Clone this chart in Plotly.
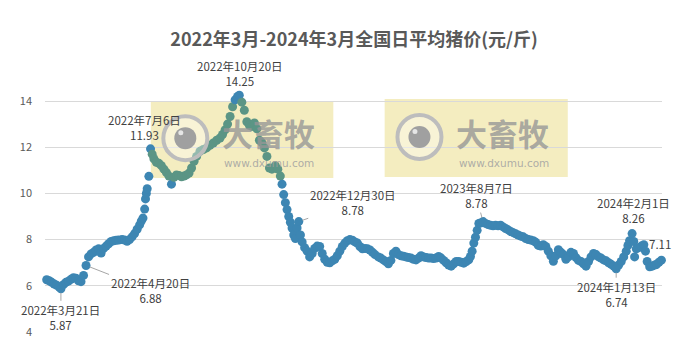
import pandas as pd
import plotly.graph_objects as go

# ---------------- data ----------------
dates = [
    "2022-03-01", "2022-03-04", "2022-03-07", "2022-03-10", "2022-03-13", "2022-03-16", "2022-03-19",
    "2022-03-21", "2022-03-24", "2022-03-27", "2022-03-30", "2022-04-02", "2022-04-05", "2022-04-08",
    "2022-04-11", "2022-04-14", "2022-04-17", "2022-04-20", "2022-04-23", "2022-04-26", "2022-04-29",
    "2022-05-02", "2022-05-05", "2022-05-08", "2022-05-11", "2022-05-14", "2022-05-17", "2022-05-20",
    "2022-05-23", "2022-05-26", "2022-05-29", "2022-06-02", "2022-06-05", "2022-06-08", "2022-06-11",
    "2022-06-14", "2022-06-17", "2022-06-20", "2022-06-23", "2022-06-25", "2022-06-27", "2022-06-29",
    "2022-06-30", "2022-07-01", "2022-07-02", "2022-07-04", "2022-07-06", "2022-07-08", "2022-07-10",
    "2022-07-13", "2022-07-16", "2022-07-19", "2022-07-22", "2022-07-25", "2022-07-28", "2022-07-31",
    "2022-08-03", "2022-08-06", "2022-08-09", "2022-08-12", "2022-08-15", "2022-08-18", "2022-08-21",
    "2022-08-24", "2022-08-27", "2022-08-30", "2022-09-03", "2022-09-07", "2022-09-11", "2022-09-15",
    "2022-09-19", "2022-09-23", "2022-09-27", "2022-09-30", "2022-10-03", "2022-10-06", "2022-10-09",
    "2022-10-12", "2022-10-15", "2022-10-18", "2022-10-20", "2022-10-23", "2022-10-26", "2022-10-29",
    "2022-11-01", "2022-11-04", "2022-11-07", "2022-11-10", "2022-11-13", "2022-11-16", "2022-11-19",
    "2022-11-22", "2022-11-25", "2022-11-28", "2022-12-02", "2022-12-05", "2022-12-08", "2022-12-10",
    "2022-12-12", "2022-12-14", "2022-12-16", "2022-12-18", "2022-12-20", "2022-12-22", "2022-12-24",
    "2022-12-26", "2022-12-28", "2022-12-30",
    "2023-01-01", "2023-01-03", "2023-01-06", "2023-01-09", "2023-01-12", "2023-01-15", "2023-01-18",
    "2023-01-21", "2023-01-24", "2023-01-27", "2023-01-30", "2023-02-02", "2023-02-05", "2023-02-08",
    "2023-02-11", "2023-02-14", "2023-02-17", "2023-02-20", "2023-02-23", "2023-02-26", "2023-03-01",
    "2023-03-04", "2023-03-07", "2023-03-10", "2023-03-13", "2023-03-16", "2023-03-19", "2023-03-22",
    "2023-03-25", "2023-03-28", "2023-03-31", "2023-04-04", "2023-04-07", "2023-04-10", "2023-04-13",
    "2023-04-16", "2023-04-19", "2023-04-22", "2023-04-25", "2023-04-28", "2023-05-01", "2023-05-04",
    "2023-05-07", "2023-05-10", "2023-05-13", "2023-05-16", "2023-05-19", "2023-05-22", "2023-05-25",
    "2023-05-28", "2023-05-31", "2023-06-03", "2023-06-06", "2023-06-09", "2023-06-12", "2023-06-15",
    "2023-06-18", "2023-06-21", "2023-06-24", "2023-06-27", "2023-06-30", "2023-07-03", "2023-07-06",
    "2023-07-09", "2023-07-12", "2023-07-15", "2023-07-18", "2023-07-21", "2023-07-23", "2023-07-25",
    "2023-07-27", "2023-07-29", "2023-07-31", "2023-08-02", "2023-08-04", "2023-08-07", "2023-08-10",
    "2023-08-13", "2023-08-16", "2023-08-19", "2023-08-22", "2023-08-25", "2023-08-28", "2023-08-31",
    "2023-09-03", "2023-09-06", "2023-09-09", "2023-09-12", "2023-09-15", "2023-09-18", "2023-09-21",
    "2023-09-24", "2023-09-27", "2023-09-30", "2023-10-03", "2023-10-06", "2023-10-09", "2023-10-12",
    "2023-10-15", "2023-10-18", "2023-10-21", "2023-10-24", "2023-10-27", "2023-10-30", "2023-11-02",
    "2023-11-05", "2023-11-08", "2023-11-11", "2023-11-14", "2023-11-17", "2023-11-20", "2023-11-23",
    "2023-11-26", "2023-11-29", "2023-12-02", "2023-12-05", "2023-12-08", "2023-12-11", "2023-12-14",
    "2023-12-17", "2023-12-20", "2023-12-23", "2023-12-26", "2023-12-29",
    "2024-01-01", "2024-01-04", "2024-01-07", "2024-01-10", "2024-01-13", "2024-01-16", "2024-01-19",
    "2024-01-22", "2024-01-25", "2024-01-27", "2024-01-29", "2024-02-01", "2024-02-03", "2024-02-04",
    "2024-02-06", "2024-02-09", "2024-02-12", "2024-02-15", "2024-02-17", "2024-02-19", "2024-02-22",
    "2024-02-25", "2024-02-28", "2024-03-01", "2024-03-04", "2024-03-07",
]
prices = [
    6.28, 6.26, 6.22, 6.15, 6.08, 6.02, 5.95,
    5.87, 6.05, 6.15, 6.20, 6.28, 6.35, 6.33,
    6.22, 6.18, 6.45, 6.88, 7.25, 7.38, 7.45,
    7.55, 7.60, 7.42, 7.62, 7.72, 7.82, 7.92,
    7.95, 7.97, 7.98, 8.00, 7.98, 7.93, 8.00,
    8.12, 8.26, 8.45, 8.64, 8.80, 8.93, 9.32,
    9.76, 10.00, 10.20, 10.74, 11.93, 11.70, 11.50,
    11.35, 11.30, 11.20, 11.05, 10.90, 10.75, 10.40,
    10.70, 10.80, 10.78, 10.72, 10.75, 10.80, 10.88,
    11.10, 11.39, 11.60, 11.82, 11.90, 11.97, 12.08,
    12.18, 12.30, 12.40, 12.55, 12.75, 13.00, 13.33,
    13.75, 14.05, 14.20, 14.25, 13.95, 13.60, 13.10,
    12.95, 12.90, 13.05, 12.80, 12.30, 12.20, 11.97,
    11.60, 11.10, 11.05, 11.20, 11.05, 10.75, 10.40,
    9.95, 9.60, 9.30, 9.00, 8.75, 8.50, 8.20,
    8.05, 8.50, 8.78,
    8.20, 7.90, 7.65, 7.50, 7.25, 7.40, 7.62,
    7.72, 7.70, 7.40, 7.15, 7.02, 7.00, 7.08,
    7.15, 7.30, 7.50, 7.70, 7.85, 7.95, 8.00,
    7.97, 7.90, 7.85, 7.70, 7.60, 7.62, 7.60,
    7.55, 7.45, 7.35, 7.25, 7.20, 7.12, 7.05,
    6.95, 7.10, 7.40, 7.50, 7.35, 7.30, 7.28,
    7.25, 7.22, 7.20, 7.15, 7.12, 7.20, 7.30,
    7.25, 7.22, 7.20, 7.20, 7.18, 7.20, 7.27,
    7.20, 7.10, 7.00, 6.90, 6.85, 6.95, 7.05,
    7.05, 7.02, 6.98, 7.05, 7.13, 7.27, 7.50,
    7.85, 8.10, 8.40, 8.70, 8.72, 8.78, 8.70,
    8.65, 8.62, 8.60, 8.62, 8.60, 8.62, 8.55,
    8.48, 8.42, 8.35, 8.30, 8.25, 8.20, 8.15,
    8.12, 8.05, 8.00, 7.98, 7.95, 7.88, 7.75,
    7.72, 7.78, 7.70, 7.50, 7.30, 7.06, 7.30,
    7.56, 7.45, 7.35, 7.15, 7.25, 7.45, 7.40,
    7.22, 7.10, 7.05, 6.95, 6.85, 7.05, 7.25,
    7.40, 7.35, 7.25, 7.20, 7.12,
    7.08, 7.00, 6.93, 6.85, 6.74, 6.90, 7.05,
    7.25, 7.50, 7.75, 7.95, 8.26, 7.92, 7.25,
    7.60, 7.65, 7.72, 7.78, 7.50, 7.05, 6.82,
    6.85, 6.90, 6.92, 7.02, 7.11,
]

# labelled points
label_dates = ["2022-03-21", "2022-04-20", "2022-07-06", "2022-10-20", "2022-12-30",
               "2023-08-07", "2024-02-01", "2024-01-13", "2024-03-07"]
label_values = [5.87, 6.88, 11.93, 14.25, 8.78, 8.78, 8.26, 6.74, 7.11]
label_names = ["2022年3月21日", "2022年4月20日", "2022年7月6日", "2022年10月20日", "2022年12月30日",
               "2023年8月7日", "2024年2月1日", "2024年1月13日", ""]

y_ticks = [4, 6, 8, 10, 12, 14]
title_text = "2022年3月-2024年3月全国日平均猪价(元/斤)"

# ---------------- styling ----------------
BLUE = "#3D86B3"
TEAL = "#5B9585"
FONT = "Noto Sans CJK SC"
# the page body adds an 8px offset, so the figure is drawn 8px smaller / shifted
W, H = 682, 352
ML, MR, MT, MB = 34, 28, 79, 28
X_RANGE = (pd.Timestamp("2022-03-02"), pd.Timestamp("2024-03-07 17:00"))
Y_RANGE = (4, 4 + (H - MT - MB) / 23.1)

# watermark boxes in paper coordinates
wm_boxes = [(0.1715, 0.4673, 0.6288, 0.9416), (0.5505, 0.8473, 0.6329, 0.9514)]
wm_circle = [(0.2274, 0.7913), (0.6069, 0.7962)]
wm_text = [(0.3629, 0.8138), (0.7419, 0.8138)]
wm_url = [(0.3629, 0.6913), (0.7435, 0.6913)]


def paper_to_date(p):
    return X_RANGE[0] + (X_RANGE[1] - X_RANGE[0]) * p


def paper_to_y(p):
    return Y_RANGE[0] + (Y_RANGE[1] - Y_RANGE[0]) * p


# marker colours: tinted where the (multiplied) watermark box covers them
ts = pd.to_datetime(dates)
colors = []
for t, v in zip(ts, prices):
    inside = False
    for x0, x1, y0, y1 in wm_boxes:
        if paper_to_date(x0) <= t <= paper_to_date(x1) and paper_to_y(y0) <= v <= paper_to_y(y1):
            inside = True
    colors.append(TEAL if inside else BLUE)

fig = go.Figure()
fig.add_trace(go.Scatter(
    x=dates, y=prices, mode="markers",
    marker=dict(size=9, color=colors, line=dict(width=0)),
    cliponaxis=False, hoverinfo="x+y", showlegend=False,
))

shapes = []
for x0, x1, y0, y1 in wm_boxes:
    shapes.append(dict(type="rect", xref="paper", yref="paper", x0=x0, x1=x1, y0=y0, y1=y1,
                       fillcolor="#F4EDC0", line=dict(width=0), layer="below"))
for cx, cy in wm_circle:
    shapes.append(dict(type="circle", xref="paper", yref="paper", xsizemode="pixel", ysizemode="pixel",
                       xanchor=cx, yanchor=cy, x0=-22, x1=22, y0=-22, y1=22,
                       fillcolor="rgba(255,255,255,0.35)", line=dict(color="#BDBDBD", width=4),
                       layer="above"))
    shapes.append(dict(type="circle", xref="paper", yref="paper", xsizemode="pixel", ysizemode="pixel",
                       xanchor=cx, yanchor=cy, x0=-11, x1=11, y0=-11, y1=11,
                       fillcolor="#A0A0A0", line=dict(width=0), layer="above"))
    shapes.append(dict(type="circle", xref="paper", yref="paper", xsizemode="pixel", ysizemode="pixel",
                       xanchor=cx, yanchor=cy, x0=-7, x1=-2, y0=3, y1=8,
                       fillcolor="#E6E6E6", line=dict(width=0), layer="above"))

annotations = []
for (tx, ty), (ux, uy) in zip(wm_text, wm_url):
    annotations.append(dict(xref="paper", yref="paper", x=tx, y=ty, xanchor="center", yanchor="middle",
                            text="大畜牧", showarrow=False, borderpad=0,
                            font=dict(family=FONT, size=31, color="rgba(150,150,150,0.8)", weight=700)))
    annotations.append(dict(xref="paper", yref="paper", x=ux, y=uy, xanchor="center", yanchor="middle",
                            text="www.dxumu.com", showarrow=False, borderpad=0,
                            font=dict(family="DejaVu Sans", size=10.5, color="rgba(160,160,160,0.85)")))

# label placements (pixel offsets): (ax, ay, arrow)
offsets = [(0, 29, True), (64, 25, True), (-6, 21, False), (1, 22, False), (54, -19, True),
           (-7, -26, True), (1, 23, False), (0, 26, True), (-1, 16, False)]
for d, v, name, (ox, oy, arrow) in zip(label_dates, label_values, label_names, offsets):
    txt = f"{name}<br>{v:.2f}" if name else f"{v:.2f}"
    a = dict(x=d, y=v, xref="x", yref="y", text=txt,
             font=dict(family=FONT, size=11.5, color="#404040"), align="center")
    if arrow:
        a.update(showarrow=True, arrowhead=0, arrowwidth=1, arrowcolor="#A6A6A6",
                 ax=ox, ay=oy, standoff=4)
    else:
        a.update(showarrow=False, xshift=ox, yshift=oy)
    annotations.append(a)

fig.update_layout(
    width=W, height=H,
    margin=dict(l=ML, r=MR, t=MT, b=MB),
    paper_bgcolor="white", plot_bgcolor="white",
    title=dict(text=title_text, x=346 / W, xanchor="center", y=1 - 32 / H, yanchor="middle",
               font=dict(family=FONT, size=18, color="#595959", weight=700)),
    shapes=shapes, annotations=annotations,
    showlegend=False,
)
fig.update_xaxes(range=[X_RANGE[0], X_RANGE[1]], showgrid=False, showticklabels=False,
                 zeroline=False, showline=False, ticks="")
fig.update_yaxes(range=list(Y_RANGE), tickvals=y_ticks, showgrid=True, gridcolor="#D9D9D9", gridwidth=1,
                 zeroline=False, showline=False, ticks="", ticklabelstandoff=12,
                 tickfont=dict(family=FONT, size=11, color="#595959"))

fig.write_html("out.html")
